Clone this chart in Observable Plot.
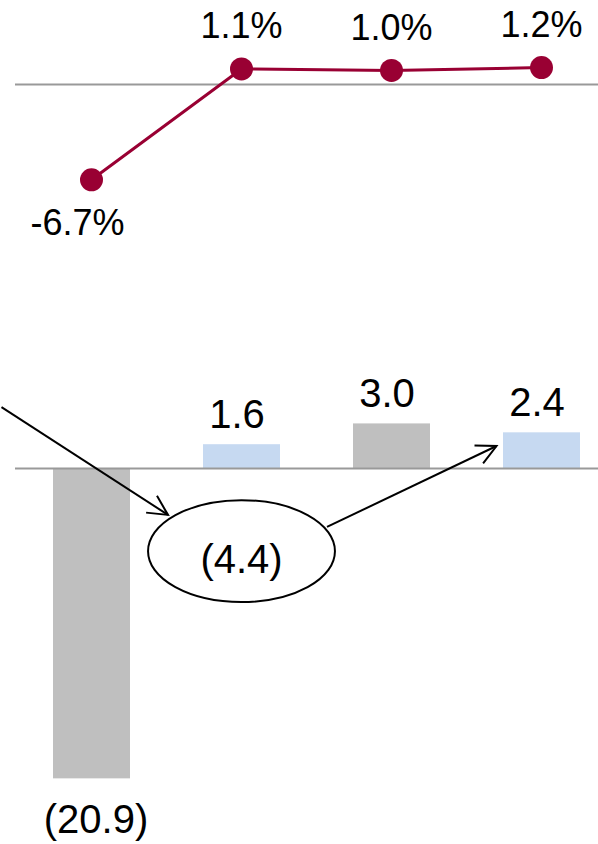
<!DOCTYPE html>
<html>
<head>
<meta charset="utf-8">
<script src="https://cdn.jsdelivr.net/npm/d3@7"></script>
<script src="https://cdn.jsdelivr.net/npm/@observablehq/plot@0.6"></script>
<style>
  html, body { margin: 0; padding: 0; background: #fff; }
  #chart { width: 598px; }
  #chart svg { display: block; }
</style>
</head>
<body>
<div id="chart"></div>
<script>
// ---- data ----
const periods = ["P1", "P2", "P3", "P4"];
const growthPct = [-6.7, 1.1, 1.0, 1.2];
const growthLabels = ["-6.7%", "1.1%", "1.0%", "1.2%"];
const barValues = [-20.9, 1.6, 3.0, 2.4];
const barLabels = ["(20.9)", "1.6", "3.0", "2.4"];
const barKinds = ["A", "B", "A", "B"];
const bridgeLabel = "(4.4)";

const FONT = "Liberation Sans, Arial, Helvetica, sans-serif";
const FS_PCT = 36;
const FS_BAR = 40;
const lineData = periods.map((p, i) => ({period: p, value: growthPct[i], label: growthLabels[i]}));
const barData = periods.map((p, i) => ({period: p, value: barValues[i], label: barLabels[i], kind: barKinds[i]}));

// ---- top: line chart ----
const topPlot = Plot.plot({
  width: 598, height: 300,
  marginTop: 0, marginBottom: 0, marginLeft: 15, marginRight: 0,
  style: {fontFamily: FONT, background: "#fff"},
  x: {type: "point", domain: periods, range: [90, 541], padding: 0, axis: null},
  y: {domain: [-15.2, 5.92], axis: null},
  marks: [
    Plot.ruleY([0], {stroke: "#999", strokeWidth: 2}),
    Plot.line(lineData, {x: "period", y: "value", stroke: "#990033", strokeWidth: 3}),
    Plot.dot(lineData, {x: "period", y: "value", r: 11.5, fill: "#990033", stroke: "none"}),
    Plot.text(lineData.filter(d => d.value >= 0), {x: "period", y: "value", text: "label", dy: -42, fontSize: FS_PCT, fill: "#000"}),
    Plot.text(lineData.filter(d => d.value < 0), {x: "period", y: "value", text: "label", dy: 44, dx: -14, fontSize: FS_PCT, fill: "#000"})
  ]
});

// ---- bottom: bar chart ----
const bottomPlot = Plot.plot({
  width: 598, height: 544,
  marginTop: 0, marginBottom: 0, marginLeft: 15, marginRight: 0,
  style: {fontFamily: FONT, background: "#fff"},
  x: {type: "band", domain: periods, range: [-22, 655], padding: 0.49, axis: null},
  y: {domain: [-25.32, 11.31], axis: null},
  color: {domain: ["A", "B"], range: ["#bfbfbf", "#c6d9f1"]},
  marks: [
    Plot.barY(barData, {x: "period", y: "value", fill: "kind"}),
    Plot.ruleY([0], {stroke: "#999", strokeWidth: 2}),
    Plot.text(barData.filter(d => d.value >= 0), {x: "period", y: "value", text: "label", dy: -30, dx: -5, fontSize: FS_BAR, fill: "#000"}),
    Plot.text(barData.filter(d => d.value < 0), {x: "period", y: "value", text: "label", dy: 41, dx: 4, fontSize: FS_BAR, fill: "#000"})
  ]
});

// ---- annotation (bridge ellipse + arrows), placed through the plot's scales ----
const xs = bottomPlot.scale("x"), ys = bottomPlot.scale("y");
const px = i => xs.apply(periods[0]) + xs.bandwidth / 2 + i * xs.step;
const py = v => ys.apply(v);
const bridge = {i: 1.0, v: -5.6, ri: 0.623, rv: 3.43};
const arrows = [
  {i1: -0.6, v1: 4.1, i2: 0.51, v2: -3.16},
  {i1: 1.57, v1: -3.97, i2: 2.70, v2: 1.48}
];
const g = d3.select(bottomPlot).append("g").attr("fill", "none").attr("stroke", "#000").attr("stroke-width", 2);
const cx = px(bridge.i), cy = py(bridge.v);
g.append("ellipse").attr("cx", cx).attr("cy", cy)
  .attr("rx", bridge.ri * xs.step).attr("ry", Math.abs(py(0) - py(bridge.rv)));
d3.select(bottomPlot).append("text")
  .attr("x", cx).attr("y", cy + 8).attr("dy", "0.35em")
  .attr("text-anchor", "middle").attr("font-size", FS_BAR).attr("font-family", FONT).attr("fill", "#000")
  .text(bridgeLabel);
for (const a of arrows) {
  const x1 = px(a.i1), y1 = py(a.v1), x2 = px(a.i2), y2 = py(a.v2);
  g.append("line").attr("x1", x1).attr("y1", y1).attr("x2", x2).attr("y2", y2);
  const ang = Math.atan2(y2 - y1, x2 - x1), L = 22, h = 27 * Math.PI / 180;
  const w1 = [x2 - L * Math.cos(ang - h), y2 - L * Math.sin(ang - h)];
  const w2 = [x2 - L * Math.cos(ang + h), y2 - L * Math.sin(ang + h)];
  g.append("path").attr("d", `M${w1[0]},${w1[1]}L${x2},${y2}L${w2[0]},${w2[1]}`);
}

const chart = document.getElementById("chart");
chart.appendChild(topPlot);
chart.appendChild(bottomPlot);
</script>
</body>
</html>
